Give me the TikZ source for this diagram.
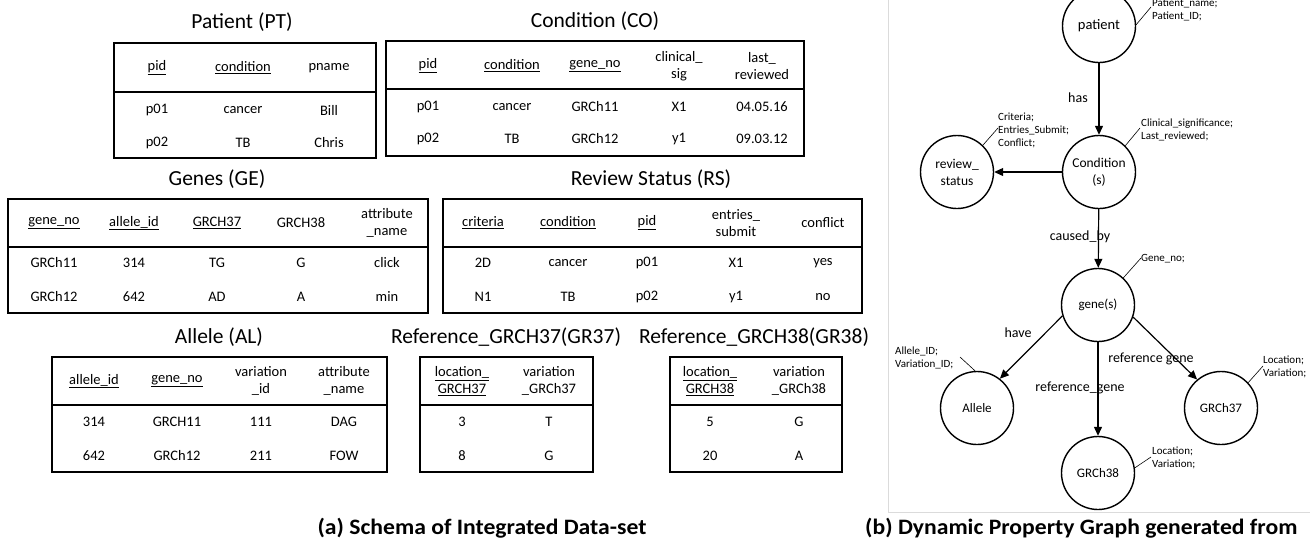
\documentclass[tikz,border=0pt]{standalone}
\usepackage{fontspec}
\setmainfont{Carlito}
\newfontfamily\capfont{Carlito}[FakeStretch=1.075]
\usetikzlibrary{arrows.meta}
\begin{document}
\begin{tikzpicture}[x=1pt,y=-1pt,
  ttl/.style={font=\fontsize{21.5}{24}\selectfont, inner sep=0pt},
  cell/.style={font=\fontsize{14.5}{17}\selectfont, align=center, inner sep=0pt},
  tbox/.style={draw, line width=1.6pt},
  tsep/.style={line width=1.6pt},
  gnode/.style={circle, draw, line width=1.4pt, minimum size=73pt, inner sep=0pt,
    align=center, font=\fontsize{13.5}{17}\selectfont},
  rel/.style={line width=1.2pt, -{Triangle[length=9pt,width=8pt]}},
  elabel/.style={font=\fontsize{14}{16}\selectfont, inner sep=0pt},
  prop/.style={font=\fontsize{11}{13}\selectfont, align=left, inner sep=0pt, anchor=west},
  lead/.style={line width=0.6pt},
  panel/.style={draw=black!14, line width=1pt},
  captext/.style={font=\capfont\bfseries\fontsize{22}{25}\selectfont, inner sep=0pt}
]
\useasboundingbox (0,0) rectangle (1310,550);

% ---------- Patient (PT) ----------
\node[ttl] (pt-title) at (242,22) {Patient (PT)};
\draw[tbox] (114,43) rectangle (376,158);
\draw[tsep] (114,92) -- (376,92);
\foreach \x/\h/\r/\s [count=\i] in {157/{\underline{pid}}/p01/p02,
    243/{\underline{condition}}/cancer/TB, 329/pname/Bill/Chris}{
  \node[cell] (pt-h\i) at (\x,68) {\h};
  \node[cell] (pt-a\i) at (\x,110) {\r};
  \node[cell] (pt-b\i) at (\x,143) {\s};
}

% ---------- Condition (CO) ----------
\node[ttl] (co-title) at (595,21) {Condition (CO)};
\draw[tbox] (386,41) rectangle (804,156);
\draw[tsep] (386,89) -- (804,89);
\foreach \x/\h/\r/\s [count=\i] in {428/{\underline{pid}}/p01/p02,
    512/{\underline{condition}}/cancer/TB,
    595/{\underline{gene\_no}}/GRCh11/GRCh12,
    679/{clinical\_\\sig}/X1/y1,
    762/{last\_\\reviewed}/04.05.16/09.03.12}{
  \node[cell] (co-h\i) at (\x,66) {\h};
  \node[cell] (co-a\i) at (\x,107) {\r};
  \node[cell] (co-b\i) at (\x,139) {\s};
}

% ---------- Genes (GE) ----------
\node[ttl] (ge-title) at (217,179) {Genes (GE)};
\draw[tbox] (8,199) rectangle (428,313);
\draw[tsep] (8,247) -- (428,247);
\foreach \x/\h/\r/\s [count=\i] in {54/{\underline{gene\_no}}/GRCh11/GRCh12,
    134/{\underline{allele\_id}}/314/642,
    217/{\underline{GRCH37}}/TG/AD,
    301/GRCH38/G/A,
    387/{attribute\\\_name}/click/min}{
  \node[cell] (ge-h\i) at (\x,223) {\h};
  \node[cell] (ge-a\i) at (\x,263) {\r};
  \node[cell] (ge-b\i) at (\x,297) {\s};
}

% ---------- Review Status (RS) ----------
\node[ttl] (rs-title) at (651,179) {Review Status (RS)};
\draw[tbox] (443,199) rectangle (862,313);
\draw[tsep] (443,247) -- (862,247);
\foreach \x/\h/\r/\s [count=\i] in {483/{\underline{criteria}}/2D/N1,
    568/{\underline{condition}}/cancer/TB,
    647/{\underline{pid}}/p01/p02,
    736/{entries\_\\submit}/X1/y1,
    823/conflict/yes/no}{
  \node[cell] (rs-h\i) at (\x,223) {\h};
  \node[cell] (rs-a\i) at (\x,263) {\r};
  \node[cell] (rs-b\i) at (\x,297) {\s};
}

% ---------- Allele (AL) ----------
\node[ttl] (al-title) at (219,337) {Allele (AL)};
\draw[tbox] (52,357) rectangle (387,472);
\draw[tsep] (52,405) -- (387,405);
\foreach \x/\h/\r/\s [count=\i] in {94/{\underline{allele\_id}}/314/642,
    177/{\underline{gene\_no}}/GRCH11/GRCh12,
    261/{variation\\\_id}/111/211,
    344/{attribute\\\_name}/DAG/FOW}{
  \node[cell] (al-h\i) at (\x,381) {\h};
  \node[cell] (al-a\i) at (\x,422) {\r};
  \node[cell] (al-b\i) at (\x,456) {\s};
}

% ---------- Reference_GRCH37 (GR37) ----------
\node[ttl] (g37-title) at (506,337) {Reference\_GRCH37(GR37)};
\draw[tbox] (420,357) rectangle (593,472);
\draw[tsep] (420,405) -- (593,405);
\foreach \x/\h/\r/\s [count=\i] in {462/{\underline{location\_}\\\underline{GRCH37}}/3/8,
    549/{variation\\\_GRCh37}/T/G}{
  \node[cell] (g37-h\i) at (\x,381) {\h};
  \node[cell] (g37-a\i) at (\x,422) {\r};
  \node[cell] (g37-b\i) at (\x,456) {\s};
}

% ---------- Reference_GRCH38 (GR38) ----------
\node[ttl] (g38-title) at (754,337) {Reference\_GRCH38(GR38)};
\draw[tbox] (670,357) rectangle (842,472);
\draw[tsep] (670,405) -- (842,405);
\foreach \x/\h/\r/\s [count=\i] in {710/{\underline{location\_}\\\underline{GRCH38}}/5/20,
    799/{variation\\\_GRCh38}/G/A}{
  \node[cell] (g38-h\i) at (\x,381) {\h};
  \node[cell] (g38-a\i) at (\x,422) {\r};
  \node[cell] (g38-b\i) at (\x,456) {\s};
}

% ---------- Property graph ----------
\draw[panel] (888,0) -- (888,512) -- (1310,512);

\node[gnode, font=\fontsize{14.5}{17}\selectfont] (patient) at (1099,26) {patient};
\node[gnode] (cond) at (1099,172) {Condition\\(s)};
\node[gnode] (review) at (957,172) {review\_\\status};
\node[gnode, font=\fontsize{13}{16}\selectfont] (gene) at (1098,305) {gene(s)};
\node[gnode, font=\fontsize{13}{16}\selectfont] (allele) at (977,408) {Allele};
\node[gnode, font=\fontsize{13}{16}\selectfont] (g37) at (1221,408) {GRCh37};
\node[gnode, font=\fontsize{13}{16}\selectfont] (g38) at (1098,473) {GRCh38};

\draw[rel] (patient) -- (cond);
\draw[rel] (cond) -- (review);
\draw[rel] (cond) -- (gene);
\draw[rel] (gene.197) -- (allele.52);
\draw[rel] (gene) -- (g38);
\draw[rel] (gene.341) -- (g37.130);

\node[elabel] (l-has) at (1078,98) {has};
\node[elabel] (l-caused) at (1080,237) {caused\_by};
\node[elabel] (l-have) at (1018,333) {have};
\node[elabel] (l-ref38) at (1080,388) {reference\_gene};
\node[elabel] (l-ref37) at (1151,359) {reference gene};

% property lists with their leader lines
\node[prop] (p-patient) at (1152,10) {Patient\_name;\\Patient\_ID;};
\node[prop] (p-cond) at (1141,130) {Clinical\_significance;\\Last\_reviewed;};
\node[prop] (p-review) at (998,130) {Criteria;\\Entries\_Submit;\\Conflict;};
\node[prop] (p-gene) at (1141,259) {Gene\_no;};
\node[prop] (p-allele) at (895,358) {Allele\_ID;\\Variation\_ID;};
\node[prop] (p-g37) at (1263,367) {Location;\\Variation;};
\node[prop] (p-g38) at (1152,458) {Location;\\Variation;};

\coordinate (t-patient) at (1151,7);
\coordinate (t-cond) at (1140,128);
\coordinate (t-review) at (998,128);
\coordinate (t-gene) at (1141,258);
\coordinate (t-allele) at (960,357);
\coordinate (t-g37) at (1263,366);
\coordinate (t-g38) at (1151,457);

\draw[lead] (patient.2) -- (t-patient);
\draw[lead] (cond.45) -- (t-cond);
\draw[lead] (review.46) -- (t-review);
\draw[lead] (gene.47) -- (t-gene);
\draw[lead] (allele.93) -- (t-allele);
\draw[lead] (g37.43) -- (t-g37);
\draw[lead] (g38.8) -- (t-g38);

% ---------- captions ----------
\node[captext] (cap-a) at (482,528) {(a) Schema of Integrated Data-set};
\node[captext, anchor=west] (cap-b) at (865,528) {(b) Dynamic Property Graph generated from};
\end{tikzpicture}
\end{document}
